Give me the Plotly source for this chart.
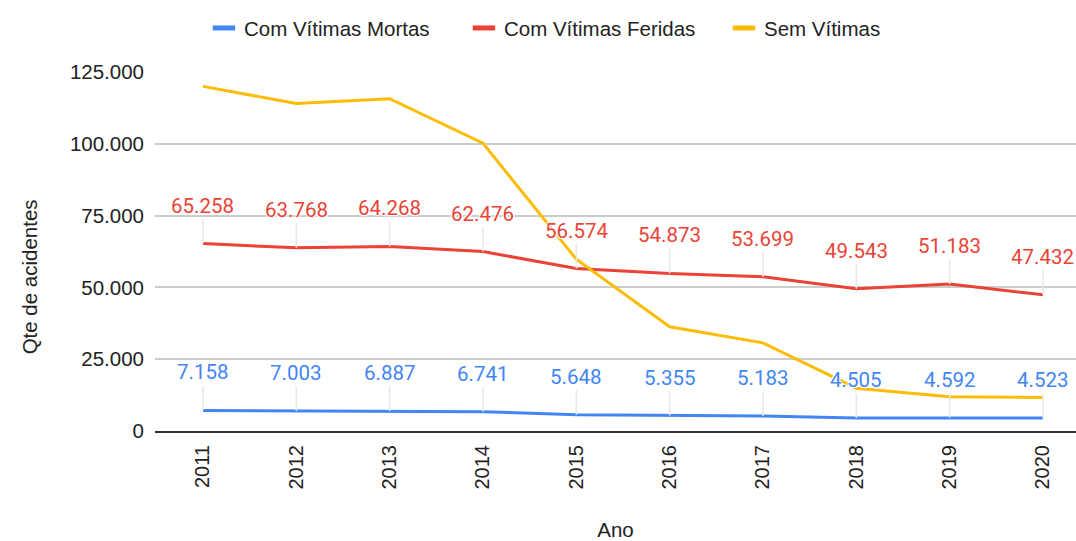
import plotly.graph_objects as go

anos = ["2011", "2012", "2013", "2014", "2015", "2016", "2017", "2018", "2019", "2020"]
mortas = [7158, 7003, 6887, 6741, 5648, 5355, 5183, 4505, 4592, 4523]
feridas = [65258, 63768, 64268, 62476, 56574, 54873, 53699, 49543, 51183, 47432]
sem_vitimas = [120000, 114000, 115700, 100200, 59800, 36300, 30700, 14900, 11900, 11700]

nomes = ["Com Vítimas Mortas", "Com Vítimas Feridas", "Sem Vítimas"]
cores = ["#4285f4", "#ea4335", "#fbbc04"]
y_ticks = [0, 25000, 50000, 75000, 100000, 125000]

def fmt(v):
    return f"{v:,}".replace(",", ".")

fig = go.Figure()
series = [mortas, feridas, sem_vitimas]
for nome, cor, vals in zip(nomes, cores, series):
    fig.add_trace(go.Scatter(x=anos, y=vals, mode="lines", name=nome,
                             line=dict(color=cor, width=3), showlegend=False,
                             hoverinfo="skip"))
# legend entries (short thick swatches)
for nome, cor in zip(nomes, cores):
    fig.add_trace(go.Scatter(x=[None], y=[None], mode="markers", name=nome,
                             marker=dict(color=cor, size=21, symbol="line-ew",
                                         line=dict(color=cor, width=7))))

halo = "1px 1px 1px #fff, -1px -1px 1px #fff, 1px -1px 1px #fff, -1px 1px 1px #fff"
annotations = []
for cor, vals in zip(cores[:2], series[:2]):
    for i, v in enumerate(vals):
        annotations.append(dict(
            x=i, y=v, xref="x", yref="y", text=fmt(v), showarrow=True,
            arrowhead=0, arrowwidth=1.5, arrowcolor="#e6e6e6", ax=0, ay=-38,
            standoff=0, startstandoff=0,
            font=dict(family="Roboto", size=20.5, color=cor, shadow=halo)))

annotations.append(dict(
    text="Qte de acidentes", xref="paper", yref="paper", x=-0.136, y=0.43,
    showarrow=False, textangle=-90, xanchor="center", yanchor="middle",
    font=dict(family="Liberation Sans, Arial", size=20.5, color="#222")))

fig.update_layout(
    width=1076, height=541,
    margin=dict(l=155, r=0, t=72, b=110, autoexpand=False),
    paper_bgcolor="white", plot_bgcolor="white",
    separators=",.",
    font=dict(family="Liberation Sans, Arial", size=20.5, color="#222"),
    legend=dict(orientation="h", xref="container", x=0.552, xanchor="center",
                yref="container", y=0.985, yanchor="top",
                font=dict(size=20.5, color="#222"), itemwidth=30,
                entrywidth=215, traceorder="normal"),
    annotations=annotations,
)
fig.update_xaxes(
    type="category", range=[-0.514, 9.354], tickangle=-90, automargin=False,
    showgrid=False, showline=True, linecolor="#333", linewidth=2,
    ticks="", ticklabelstandoff=4,
    tickfont=dict(size=20, color="#222"),
    title=dict(text="Ano", standoff=36, font=dict(size=20.5, color="#222")),
)
fig.update_yaxes(
    range=[0, 125000], tickvals=y_ticks, ticktext=[fmt(v) for v in y_ticks],
    showgrid=True, gridcolor="#cccccc", gridwidth=1.5, zeroline=False,
    ticks="", ticklabelstandoff=10, automargin=False,
    tickfont=dict(size=20.5, color="#222"),
)

fig.write_html("out.html", config={"displayModeBar": False},
               post_script="document.body.style.margin='0';")
